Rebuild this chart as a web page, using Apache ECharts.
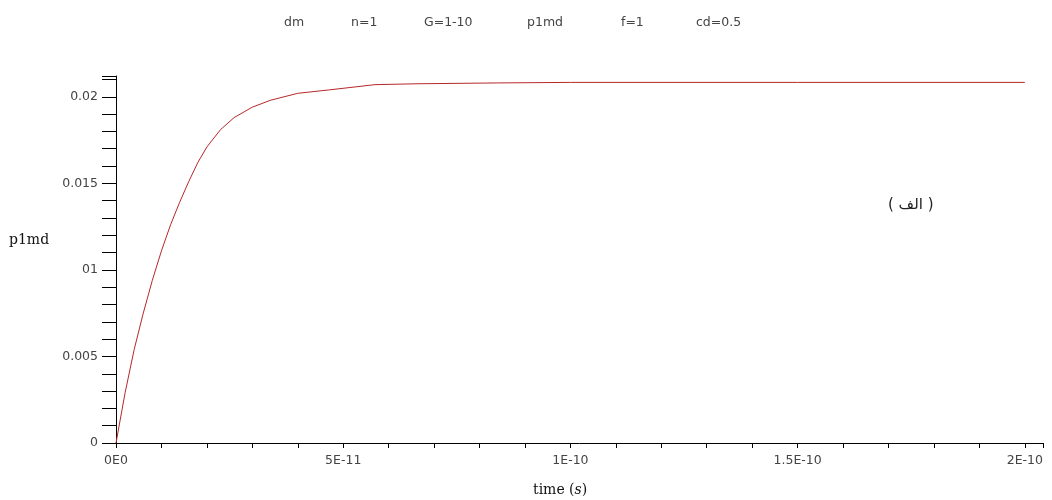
<!DOCTYPE html>
<html>
<head>
<meta charset="utf-8">
<script src="https://cdn.jsdelivr.net/npm/echarts@6/dist/echarts.min.js"></script>
<style>
  html, body { margin: 0; padding: 0; background: #fff; }
  #chart { width: 1052px; height: 500px; }
</style>
</head>
<body>
<div id="chart"></div>
<script>
// time in picoseconds, value of p1md
const timePs = [0, 2, 4, 6, 8, 10, 12, 14, 16, 18, 20, 23, 26, 30, 34, 40, 47, 57, 66, 84, 100, 150, 200]
const p1md = [0, 0.0029, 0.0054, 0.0075, 0.0094, 0.0111, 0.0126, 0.0139, 0.0151, 0.0162, 0.0171, 0.0181, 0.0188, 0.0194, 0.0198, 0.0202, 0.0204, 0.0207, 0.02075, 0.0208, 0.02083, 0.02083, 0.02083]

// axis ticks and labels
const xTicks = [0, 10, 20, 30, 40, 50, 60, 70, 80, 90, 100, 110, 120, 130, 140, 150, 160, 170, 180, 190, 200, 204]
const xLabelValues = [0, 50, 100, 150, 200]
const xLabels = ['0E0', '5E-11', '1E-10', '1.5E-10', '2E-10']
const yTicks = [0, 0.001, 0.002, 0.003, 0.004, 0.005, 0.006, 0.007, 0.008, 0.009, 0.01, 0.011, 0.012, 0.013, 0.014, 0.015, 0.016, 0.017, 0.018, 0.019, 0.02, 0.021, 0.0212]
const yLabelValues = [0, 0.005, 0.01, 0.015, 0.02]
const yLabels = ['0', '0.005', '01', '0.015', '0.02']

// header line
const headerTexts = ['dm', 'n=1', 'G=1-10', 'p1md', 'f=1', 'cd=0.5']
const headerLeft = [284, 351, 424, 527, 621, 696]

const chart = echarts.init(document.getElementById('chart'))

const labelFont = { fontFamily: 'DejaVu Sans', fontSize: 12.5, color: '#444' }

const option = {
  animation: false,
  title: headerTexts.map((t, i) => ({
    text: t,
    left: headerLeft[i],
    top: 16,
    padding: 0,
    textStyle: { fontFamily: 'DejaVu Sans', fontSize: 12.5, fontWeight: 'normal', color: '#444' }
  })),
  grid: { left: 116, right: 9, top: 76, bottom: 57, containLabel: false },
  xAxis: {
    type: 'value',
    min: 0,
    max: 204,
    splitLine: { show: false },
    axisLine: { lineStyle: { color: '#000', width: 1 } },
    axisTick: { customValues: xTicks, length: 5, lineStyle: { color: '#000' } },
    axisLabel: Object.assign({
      customValues: xLabelValues,
      margin: 11,
      formatter: v => {
        const i = xLabelValues.indexOf(v)
        return i >= 0 ? xLabels[i] : ''
      }
    }, labelFont)
  },
  yAxis: {
    type: 'value',
    min: 0,
    max: 0.0212,
    splitLine: { show: false },
    axisLine: { show: true, lineStyle: { color: '#000', width: 1 } },
    axisTick: { show: true, customValues: yTicks, length: 14, lineStyle: { color: '#000' } },
    axisLabel: Object.assign({
      customValues: yLabelValues,
      margin: 18,
      formatter: v => {
        const i = yLabelValues.indexOf(v)
        return i >= 0 ? yLabels[i] : ''
      }
    }, labelFont)
  },
  graphic: [
    {
      type: 'text', left: 9, top: 233,
      style: { text: 'p1md', font: '14px "DejaVu Serif"', fill: '#111' }
    },
    {
      type: 'text', left: 533, top: 483,
      style: {
        text: 'time ({i|s})',
        font: '14px "DejaVu Serif"',
        fill: '#111',
        rich: { i: { fontStyle: 'italic', fontFamily: 'DejaVu Serif', fontSize: 14 } }
      }
    },
    {
      type: 'text', left: 888, top: 198,
      style: { text: '( الف )', font: '15px "DejaVu Sans"', fill: '#222' }
    }
  ],
  series: [
    {
      type: 'line',
      data: timePs.map((t, i) => [t, p1md[i]]),
      showSymbol: false,
      smooth: false,
      lineStyle: { color: '#b5282a', width: 1 }
    }
  ]
}

chart.setOption(option)
</script>
</body>
</html>
